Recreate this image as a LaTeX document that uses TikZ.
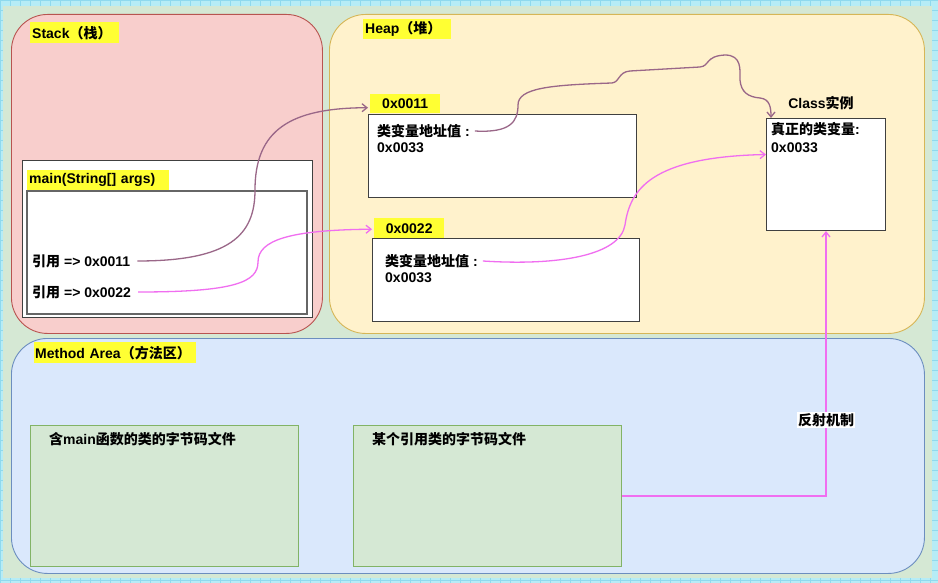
\documentclass[tikz,border=0pt]{standalone}
\usepackage{fontspec}
\setmainfont{Liberation Sans}
\newfontfamily\cjkfont{Noto Sans CJK SC}
\newcommand{\cn}[1]{{\cjkfont #1}}
\usetikzlibrary{arrows.meta,positioning}
\definecolor{gridbg}{HTML}{B6ECF6}
\definecolor{gridln}{HTML}{8FD9EE}
\definecolor{canvas}{HTML}{D5E8D4}
\definecolor{stackfill}{HTML}{F8CECC}
\definecolor{stackline}{HTML}{B85450}
\definecolor{heapfill}{HTML}{FFF2CC}
\definecolor{heapline}{HTML}{D6B656}
\definecolor{methfill}{HTML}{DAE8FC}
\definecolor{methline}{HTML}{6C8EBF}
\definecolor{codeline}{HTML}{82B366}
\definecolor{mauve}{HTML}{9A6788}
\definecolor{pink}{HTML}{F06EF0}
\definecolor{tagyellow}{HTML}{FFFF33}
\begin{document}
\begin{tikzpicture}[x=1pt,y=-1pt,>={Straight Barb[length=5pt,width=8pt]},
  font=\bfseries\fontsize{14}{16}\selectfont,
  area/.style={draw,rounded corners=36pt,line width=0.9pt,anchor=north west,inner sep=0pt},
  box/.style={draw=black!75,fill=white,line width=1pt,anchor=north west,inner sep=0pt},
  codebox/.style={draw=codeline,fill=canvas,line width=1pt,anchor=north west,inner sep=0pt},
  tag/.style={fill=tagyellow,anchor=north west,inner xsep=2pt,inner ysep=0pt,minimum height=20pt,align=left},
  txt/.style={anchor=west,inner sep=0pt},
  link/.style={->,line width=1.3pt}]
\useasboundingbox (0,0) rectangle (938,583);
\fill[gridbg] (0,0) rectangle (938,583);
\draw[gridln,line width=0.4pt,step=10pt] (0,0) grid (938,583);
\fill[canvas] (3,6) rectangle (932,578);
\node[area,draw=stackline,fill=stackfill,minimum width=311pt,minimum height=319pt] (stack) at (11,14) {};
\node[area,draw=heapline,fill=heapfill,minimum width=595pt,minimum height=319pt] (heap) at (329,14) {};
\node[area,draw=methline,fill=methfill,minimum width=913pt,minimum height=235pt] (method) at (11,338) {};
\node[tag,text width=85pt,minimum height=21pt] (stacktag) at (30,22) {Stack\cn{（栈）}};
\node[tag,text width=84pt] (heaptag) at (363,19) {Heap\cn{（堆）}};
\node[tag,inner xsep=1pt,text width=160pt,minimum height=21pt] (methtag) at (34,342) {Method Area\cn{（方法区）}};
\node[box,minimum width=290pt,minimum height=157pt] (mainframe) at (22,160) {};
\node[box,draw=black!60,line width=1.6pt,minimum width=280pt,minimum height=123pt] (mainbox) at (26,190) {};
\node[tag,text width=138pt] (maintag) at (27,170) {main(String[] args)};
\node[txt] (ref1) at (32,261) {\cn{引用} => 0x0011};
\node[txt] (ref2) at (32,292) {\cn{引用} => 0x0022};
\node[box,minimum width=268pt,minimum height=83pt] (obj1) at (368,114) {};
\node[tag,text width=66pt,align=center,minimum height=19pt] (t11) at (370,94) {0x0011};
\node[txt] (o1a) at (377,131) {\cn{类变量地址值} :};
\node[txt] (o1b) at (377,148) {0x0033};
\node[box,minimum width=267pt,minimum height=83pt] (obj2) at (372,238) {};
\node[tag,text width=66pt,align=center] (t22) at (374,218) {0x0022};
\node[txt] (o2a) at (385,261) {\cn{类变量地址值} :};
\node[txt] (o2b) at (385,278) {0x0033};
\node[box,minimum width=119pt,minimum height=112pt] (cls) at (766,118) {};
\node (clstag) at (821,103) {Class\cn{实例}};
\node[txt] (c1) at (771,129) {\cn{真正的类变量}:};
\node[txt] (c2) at (771,148) {0x0033};
\node[codebox,minimum width=268pt,minimum height=141pt] (code1) at (30,425) {};
\node[txt] (code1txt) at (49,439) {\cn{含}main\cn{函数的类的字节码文件}};
\node[codebox,minimum width=268pt,minimum height=141pt] (code2) at (353,425) {};
\node[txt] (code2txt) at (372,439) {\cn{某个引用类的字节码文件}};
\draw[link,mauve] ([xshift=7pt]ref1.east) .. controls (230,261) and (255,235) .. (255,190)
  .. controls (255,130) and (290,108) .. ([xshift=-2pt,yshift=-4pt]t11.west);
\draw[link,pink] ([xshift=7pt]ref2.east) .. controls (235,292) and (258,282) .. (258,262)
  .. controls (258,240) and (290,230) .. ([xshift=-2pt,yshift=-1pt]t22.west);
\draw[link,mauve] ([xshift=5pt]o1a.east) .. controls (510,133) and (518,122) .. (518,105)
  .. controls (518,88) and (550,85) .. (612,83) .. controls (620,82) and (618,72) .. (630,71)
  -- (700,67) .. controls (710,66) and (705,56) .. (725,55) .. controls (742,55) and (740,70) .. (740,80)
  .. controls (741,92) and (748,97) .. (760,98) .. controls (770,99) and (771,108) .. ([xshift=5pt]cls.north west);
\draw[link,pink] ([xshift=5pt]o2a.east) .. controls (560,266) and (620,255) .. (625,225)
  .. controls (630,190) and (650,157) .. ([yshift=20pt]cls.west);
\draw[link,pink] (code2.east) -| (cls.south);
\node[fill=white,inner sep=1pt] (reflect) at (826,420) {\cn{反射机制}};
\end{tikzpicture}
\end{document}
